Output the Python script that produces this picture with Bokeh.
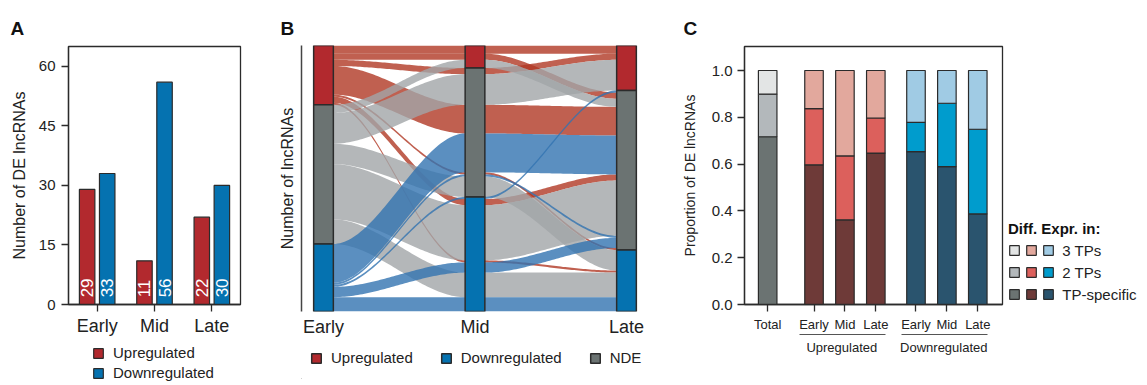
import numpy as np
from bokeh.plotting import figure
from bokeh.models import (Range1d, FixedTicker, Legend, LegendItem, LinearAxis,
                          ColumnDataSource, PrintfTickFormatter)
from bokeh.layouts import row, column
from bokeh.embed import file_html
from bokeh.resources import INLINE
from bokeh.core.properties import value

FONT = "Liberation Sans"
TXT = "#222222"
EDGE = "#2b2b2b"

# ---------------- Panel A data ----------------
a_categories = ["Early", "Mid", "Late"]
a_up = [29, 11, 22]
a_down = [33, 56, 30]
a_yticks = [0, 15, 30, 45, 60]

# ---------------- Panel B data (alluvia: Early -> Mid -> Late) ----------------
b_axes = ["Early", "Mid", "Late"]
b_states = ["Upregulated", "NDE", "Downregulated"]
b_legend_order = ["Upregulated", "Downregulated", "NDE"]
alluvium_id    = ["r1", "r2", "r3", "r4", "r5", "r6", "r7",
                  "g1", "g2", "g3", "g4", "g5",
                  "b1", "b2", "b3", "b4", "b5"]
alluvium_early = ["Upregulated"] * 7 + ["NDE"] * 5 + ["Downregulated"] * 5
alluvium_mid   = ["Upregulated", "Upregulated", "NDE", "NDE", "NDE", "Downregulated", "Downregulated",
                  "Upregulated", "NDE", "NDE", "Downregulated", "Downregulated",
                  "NDE", "NDE", "Downregulated", "Downregulated", "Downregulated"]
alluvium_late  = ["Upregulated", "NDE", "Upregulated", "NDE", "NDE", "NDE", "Downregulated",
                  "NDE", "Upregulated", "Downregulated", "NDE", "Downregulated",
                  "NDE", "NDE", "NDE", "NDE", "Downregulated"]
alluvium_n     = [4, 3, 3, 14, 1, 3, 1,
                  4, 15, 10, 27, 12,
                  19, 1, 1, 5, 7]
# stacking order of the lodes (top to bottom) at each time point
lode_order_early = ["r1", "r2", "r3", "r4", "r5", "r6", "r7",
                    "g1", "g2", "g3", "g4", "g5",
                    "b1", "b2", "b3", "b4", "b5"]
lode_order_mid = ["r1", "r2", "g1",
                  "r3", "g2", "r4", "b1", "r5", "b2", "g3",
                  "b3", "r6", "g4", "r7", "b4", "g5", "b5"]
lode_order_late = ["r1", "r3", "g2",
                   "b3", "r2", "g1", "r4", "b1", "r6", "g4", "b2", "b4", "r5",
                   "g3", "r7", "g5", "b5"]

# ---------------- Panel C data ----------------
c_labels = ["Total", "Early", "Mid", "Late", "Early", "Mid", "Late"]
c_groups = ["Total", "Upregulated", "Upregulated", "Upregulated",
            "Downregulated", "Downregulated", "Downregulated"]
c_tp_specific = [0.717, 0.597, 0.362, 0.647, 0.653, 0.589, 0.387]
c_two_tps     = [0.182, 0.240, 0.273, 0.150, 0.125, 0.271, 0.362]
c_three_tps   = [0.101, 0.163, 0.365, 0.203, 0.222, 0.140, 0.251]
c_yticks = [0.0, 0.2, 0.4, 0.6, 0.8, 1.0]
c_legend_labels = ["3 TPs", "2 TPs", "TP-specific"]

# ---------------- colours ----------------
UP = "#b2292e"
DOWN = "#0572b0"
NDE = "#6b7372"
state_color = {"Upregulated": UP, "NDE": NDE, "Downregulated": DOWN}
flow_color = {"Upregulated": "#b03824", "NDE": "#a1a5a7", "Downregulated": "#3273b0"}
c_colors = {
    "Total": ["#6b7372", "#b3b8bb", "#e3e5e5"],
    "Upregulated": ["#6e3a38", "#dc605c", "#e2a89d"],
    "Downregulated": ["#2a546e", "#009ccd", "#a0cbe4"],
}


def style_axis(ax, size):
    ax.axis_line_color = EDGE
    ax.axis_line_width = 1.3
    ax.major_tick_line_color = EDGE
    ax.major_tick_line_width = 1.3
    ax.major_tick_in = 0
    ax.major_tick_out = 7
    ax.minor_tick_line_color = None
    ax.major_label_text_font = FONT
    ax.major_label_text_font_size = size
    ax.major_label_text_color = TXT
    ax.axis_label_text_font = FONT
    ax.axis_label_text_font_style = "normal"
    ax.axis_label_text_color = TXT


def base_fig(letter, offset, standoff, **kw):
    p = figure(output_backend="svg", toolbar_location=None, **kw)
    p.xgrid.visible = False
    p.ygrid.visible = False
    p.background_fill_color = "white"
    p.border_fill_color = "white"
    p.title.text = letter
    p.title.align = "left"
    p.title.offset = offset
    p.title.standoff = standoff
    p.title.text_font = FONT
    p.title.text_font_size = "19px"
    p.title.text_font_style = "bold"
    p.title.text_color = "#111111"
    return p


def legend_fig(width, height):
    # a strip below a panel that only carries that panel's legend;
    # its swatch renderers sit outside the visible range
    p = figure(width=width, height=height, x_axis_type=None, y_axis_type=None,
               x_range=Range1d(0, 1), y_range=Range1d(0, 1), min_border=0,
               output_backend="svg", toolbar_location=None)
    p.outline_line_color = None
    p.background_fill_color = "white"
    p.border_fill_color = "white"
    return p


def swatch(p, color, lw):
    return p.vbar(x=[-5], top=[-4], bottom=[-5], width=0.1, fill_color=color,
                  line_color=EDGE, line_width=lw)


def blank_axis(**kw):
    ax = LinearAxis(ticker=FixedTicker(ticks=[]), major_tick_in=0, minor_tick_in=0,
                    minor_tick_out=0, major_label_standoff=0, **kw)
    return ax


def legend_style(**kw):
    d = dict(glyph_width=12, glyph_height=12, label_text_font=FONT, label_text_font_size="15px",
             label_text_color=TXT, padding=0, border_line_color=None, background_fill_alpha=0)
    d.update(kw)
    return d


# ================= Panel A =================
pA = base_fig("A", -58, 15, frame_width=172, frame_height=258, min_border_left=68,
              min_border_right=35, min_border_top=46, min_border_bottom=0,
              x_range=Range1d(0, len(a_categories)), y_range=Range1d(0, 65))
pA.outline_line_color = EDGE
pA.outline_line_width = 1.3
xc = np.arange(len(a_categories)) + 0.5
off, bw = 0.175, 0.27
pA.vbar(x=xc - off, top=a_up, width=bw, fill_color=UP, line_color=EDGE, line_width=1.2)
pA.vbar(x=xc + off, top=a_down, width=bw, fill_color=DOWN, line_color=EDGE, line_width=1.2)
pA.text(x=list(xc - off) + list(xc + off), y=[1.8] * 6,
        text=[str(v) for v in a_up + a_down], angle=np.pi / 2,
        text_color="white", text_font=value(FONT), text_font_size="17px",
        text_align="left", text_baseline="middle")
style_axis(pA.xaxis[0], "18px")
style_axis(pA.yaxis[0], "15px")
pA.xaxis.ticker = FixedTicker(ticks=list(xc))
pA.xaxis.major_label_overrides = {float(x): c for x, c in zip(xc, a_categories)}
pA.xaxis.major_label_standoff = 4
pA.yaxis.ticker = FixedTicker(ticks=a_yticks)
pA.yaxis.major_label_standoff = 6
pA.yaxis.axis_label = "Number of DE lncRNAs"
pA.yaxis.axis_label_text_font_size = "16px"
pA.yaxis.axis_label_standoff = 8

lA = legend_fig(275, 46)
ra_up = swatch(lA, UP, 1.2)
ra_dn = swatch(lA, DOWN, 1.2)
lA.add_layout(Legend(items=[LegendItem(label="Upregulated", renderers=[ra_up]),
                            LegendItem(label="Downregulated", renderers=[ra_dn])],
                     location=(24, 3), orientation="vertical", spacing=3, margin=0,
                     label_standoff=9, label_height=17, **legend_style()))

# ================= Panel B =================
total = sum(alluvium_n)
pB = base_fig("B", -21, 14, frame_width=344, frame_height=266, min_border_left=26,
              min_border_right=27, min_border_top=45, min_border_bottom=0,
              x_range=Range1d(0.8548, 3.1254), y_range=Range1d(0, total))
pB.outline_line_color = None
ax_x = np.arange(1, len(b_axes) + 1)
sw = 0.13
orders = [lode_order_early, lode_order_mid, lode_order_late]
pos = {}
for i, order in enumerate(orders):
    top = total
    for aid in order:
        n = alluvium_n[alluvium_id.index(aid)]
        pos[(i, aid)] = (top, top - n)
        top -= n

xs_all, ys_all, cols = [], [], []
t = np.linspace(0, 1, 60)
s = t * t * (3 - 2 * t)
for k, aid in enumerate(alluvium_id):
    for i in range(len(b_axes) - 1):
        x0 = ax_x[i] + sw / 2
        x1 = ax_x[i + 1] - sw / 2
        t0, b0 = pos[(i, aid)]
        t1, b1 = pos[(i + 1, aid)]
        xx = x0 + (x1 - x0) * t
        tt = t0 + (t1 - t0) * s
        bb = b0 + (b1 - b0) * s
        xs_all.append(list(xx) + list(xx[::-1]))
        ys_all.append(list(tt) + list(bb[::-1]))
        cols.append(flow_color[alluvium_early[k]])
pB.patches(xs="xs", ys="ys", fill_color="c", fill_alpha=0.8, line_color=None,
           source=ColumnDataSource(dict(xs=xs_all, ys=ys_all, c=cols)))

state_lists = [alluvium_early, alluvium_mid, alluvium_late]
for st in b_states:
    bx, btop, bbot = [], [], []
    for i in range(len(b_axes)):
        ids = [a for k, a in enumerate(alluvium_id) if state_lists[i][k] == st]
        bx.append(ax_x[i])
        btop.append(max(pos[(i, a)][0] for a in ids))
        bbot.append(min(pos[(i, a)][1] for a in ids))
    pB.vbar(x=bx, top=btop, bottom=bbot, width=sw, fill_color=state_color[st],
            line_color=EDGE, line_width=1.5)
style_axis(pB.xaxis[0], "18px")
pB.xaxis.ticker = FixedTicker(ticks=list(ax_x))
pB.xaxis.major_label_overrides = {int(x): c for x, c in zip(ax_x, b_axes)}
pB.xaxis.axis_line_color = None
pB.xaxis.major_tick_line_color = None
pB.xaxis.major_tick_out = 0
pB.xaxis.major_label_standoff = 5
style_axis(pB.yaxis[0], "10px")
pB.yaxis.ticker = FixedTicker(ticks=[])
pB.yaxis.major_tick_out = 0
pB.yaxis.major_label_standoff = 0
pB.yaxis.axis_line_color = "#444444"
pB.yaxis.axis_line_width = 1.5
pB.yaxis.axis_label = "Number of lncRNAs"
pB.yaxis.axis_label_text_font_size = "16px"
pB.yaxis.axis_label_standoff = 6

lB = legend_fig(397, 40)
lb_items = []
for st in b_legend_order:
    lb_items.append(LegendItem(label=st, renderers=[swatch(lB, state_color[st], 1.5)]))
lB.add_layout(Legend(items=lb_items, location=(9, 13), orientation="horizontal",
                     spacing=27, margin=0, label_standoff=9, label_height=17, **legend_style()))

# ================= Panel C =================
pC = base_fig("C", -61, 15, frame_width=258, frame_height=258, min_border_left=72,
              min_border_right=137, min_border_top=46, min_border_bottom=73,
              x_range=Range1d(0.25, 8.6), y_range=Range1d(0, 1.1026))
pC.outline_line_color = EDGE
pC.outline_line_width = 1.3
cx = [1.0] + [2.5 + i for i in range(3)] + [5.8 + i for i in range(3)]
cbw = 0.6
c_rend = {}
for g in ["Total", "Upregulated", "Downregulated"]:
    idx = [i for i, gg in enumerate(c_groups) if gg == g]
    xg = [cx[i] for i in idx]
    l1 = [c_tp_specific[i] for i in idx]
    l2 = [c_tp_specific[i] + c_two_tps[i] for i in idx]
    l3 = [c_tp_specific[i] + c_two_tps[i] + c_three_tps[i] for i in idx]
    r1 = pC.vbar(x=xg, bottom=0, top=l1, width=cbw, fill_color=c_colors[g][0], line_color=EDGE, line_width=1.2)
    r2 = pC.vbar(x=xg, bottom=l1, top=l2, width=cbw, fill_color=c_colors[g][1], line_color=EDGE, line_width=1.2)
    r3 = pC.vbar(x=xg, bottom=l2, top=l3, width=cbw, fill_color=c_colors[g][2], line_color=EDGE, line_width=1.2)
    c_rend[g] = [r3, r2, r1]
style_axis(pC.xaxis[0], "13px")
style_axis(pC.yaxis[0], "15px")
pC.xaxis.ticker = FixedTicker(ticks=cx)
pC.xaxis.major_label_overrides = {float(x): l for x, l in zip(cx, c_labels)}
pC.xaxis.major_label_standoff = 5
pC.yaxis.ticker = FixedTicker(ticks=c_yticks)
pC.yaxis.formatter = PrintfTickFormatter(format="%.1f")
pC.yaxis.major_label_standoff = 5
pC.yaxis.axis_label = "Proportion of DE lncRNAs"
pC.yaxis.axis_label_text_font_size = "14px"
pC.yaxis.axis_label_standoff = 11

# group underlines and group labels as extra bottom axes
pC.add_layout(blank_axis(major_tick_out=5, axis_line_color=None), "below")
grp_centers = []
grp_names = []
for g in ["Upregulated", "Downregulated"]:
    xs_g = [cx[i] for i, gg in enumerate(c_groups) if gg == g]
    pC.add_layout(blank_axis(major_tick_out=0, bounds=(min(xs_g) - 0.48, max(xs_g) + 0.32),
                             axis_line_color="#555555", axis_line_width=1), "below")
    grp_centers.append(float(np.mean(xs_g)) - 0.1)
    grp_names.append(g)
grp_ax = LinearAxis(ticker=FixedTicker(ticks=grp_centers),
                    major_label_overrides={c: n for c, n in zip(grp_centers, grp_names)},
                    axis_line_color=None, major_tick_line_color=None, major_tick_out=0,
                    major_tick_in=0, minor_tick_line_color=None, major_label_standoff=5,
                    major_label_text_font=FONT, major_label_text_font_size="13px",
                    major_label_text_color=TXT)
pC.add_layout(grp_ax, "below")

# legend: three columns of swatches (Total, Up, Down), labels on the last column
c_items = []
for j, g in enumerate(["Total", "Upregulated", "Downregulated"]):
    for k in range(3):
        lab = ("\u00a0\u00a0" + c_legend_labels[k]) if j == 2 else ""
        c_items.append(LegendItem(label=lab, renderers=[c_rend[g][k]]))
legC = Legend(items=c_items, location=(6, 1), orientation="vertical", ncols=3,
              spacing=4, margin=0, label_standoff=0, label_width=1, label_height=18,
              title="Diff. Expr. in:", title_text_font=FONT, title_text_font_size="15px",
              title_text_font_style="bold", title_text_color="#111111", title_standoff=4,
              **legend_style())
pC.add_layout(legC, "right")

layout = row(column(pA, lA), column(pB, lB), pC)
open("out.html", "w").write(file_html(layout, INLINE))
